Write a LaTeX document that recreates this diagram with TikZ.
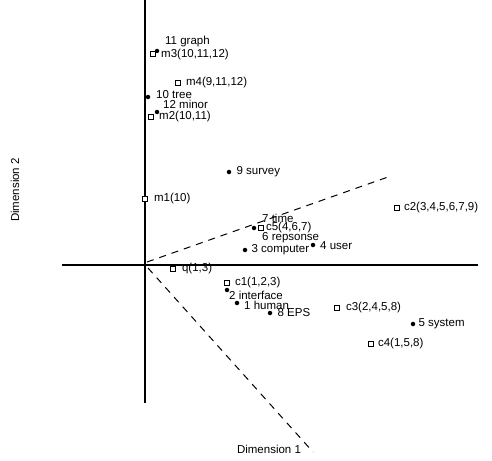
\documentclass[tikz,border=0pt]{standalone}
\usepackage{fontspec}
\setmainfont{Liberation Sans}
\usetikzlibrary{positioning}
\tikzstyle{term} = [circle, fill=black, inner sep=0pt, minimum size=4.5pt]
\tikzstyle{doc} = [rectangle, draw=black, fill=white, line width=0.7pt,
    inner sep=0pt, minimum size=5pt]
\tikzstyle{lbl} = [inner sep=0pt, anchor=west, font=\fontsize{11.5}{13}\selectfont]
\tikzstyle{axis} = [line width=1.2pt]
\tikzstyle{cone} = [line width=1pt, dash pattern=on 7pt off 6pt]

\begin{document}
\begin{tikzpicture}[x=1pt,y=-1pt]
\useasboundingbox (0,0) rectangle (492,460);

% axes
\coordinate (xl) at (62,265);
\coordinate (xr) at (478,265);
\coordinate (yt) at (145,0);
\coordinate (yb) at (145,403);
\draw [axis] (xl) -- (xr);
\draw [axis] (yt) -- (yb);

% query cone
\coordinate (o1) at (147,262);
\coordinate (o2) at (148,268);
\coordinate (e1) at (388,177);
\coordinate (e2) at (313,452);
\draw [cone] (o1) -- (e1);
\draw [cone] (o2) -- (e2);

% terms
\node [term] (t11) at (157,51) {};
\node [lbl] at (165,42) {11 graph};
\node [term] (t10) at (148,97) {};
\node [lbl] at (156,95) {10 tree};
\node [term] (t12) at (157,112) {};
\node [lbl] at (163,104) {12 minor};
\node [term] (t9) at (229,172) {};
\node [lbl, right=5pt of t9] {9 survey};
\node [term] (t7) at (254,228) {};
\node [lbl] at (262,218) {7 time};
\node [lbl] at (262,238) {6 repsonse};
\node [term] (t4) at (313,245) {};
\node [lbl] at (320,246) {4 user};
\node [term] (t3) at (245,250) {};
\node [lbl, right=4pt of t3] {3 computer};
\node [term] (t2) at (227,290) {};
\node [lbl] at (229,295) {2 interface};
\node [term] (t1) at (237,303) {};
\node [lbl] at (244,305) {1 human};
\node [term] (t8) at (270,313) {};
\node [lbl, right=5pt of t8] {8 EPS};
\node [term] (t5) at (413,324) {};
\node [lbl, right=3pt of t5] {5 system};

% documents
\node [doc] (m3) at (153,54) {};
\node [lbl] at (161,55) {m3(10,11,12)};
\node [doc] (m4) at (178,83) {};
\node [lbl, right=5pt of m4] {m4(9,11,12)};
\node [doc] (m2) at (151,117) {};
\node [lbl] at (159,117) {m2(10,11)};
\node [doc] (m1) at (145,199) {};
\node [lbl, right=6pt of m1] {m1(10)};
\node [doc] (c5) at (261,228) {};
\node [lbl, right=2pt of c5] {c5(4,6,7)};
\node [doc] (c2) at (397,208) {};
\node [lbl, right=4pt of c2] {c2(3,4,5,6,7,9)};
\node [doc] (q) at (173,269) {};
\node [lbl, right=6pt of q] {q(1,3)};
\node [doc] (c1) at (227,283) {};
\node [lbl, right=5pt of c1] {c1(1,2,3)};
\node [doc] (c3) at (337,308) {};
\node [lbl, right=6pt of c3] {c3(2,4,5,8)};
\node [doc] (c4) at (371,344) {};
\node [lbl, right=4pt of c4] {c4(1,5,8)};

% axis titles
\node [font=\fontsize{11.5}{13}\selectfont] (dim1) at (269,449) {Dimension 1};
\node [font=\fontsize{11.5}{13}\selectfont, rotate=90] (dim2) at (15,190) {Dimension 2};

\end{tikzpicture}
\end{document}
